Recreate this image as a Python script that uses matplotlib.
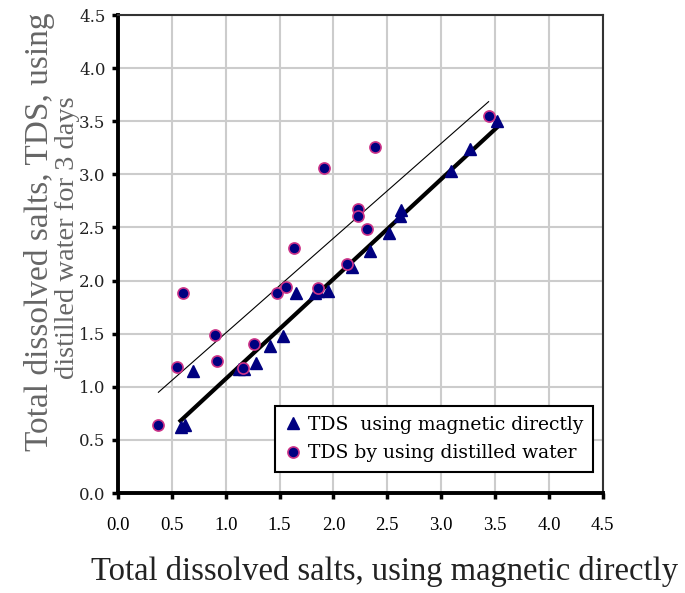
import numpy as np
import matplotlib
matplotlib.use('Agg')
import matplotlib.pyplot as plt

# TDS measured with the magnetic method directly
mag_x = [0.58, 0.62, 0.70, 1.12, 1.17, 1.28, 1.41, 1.53, 1.65, 1.83, 1.86, 1.95,
         2.17, 2.34, 2.52, 2.62, 2.63, 3.09, 3.27, 3.52]
mag_y = [0.62, 0.64, 1.15, 1.17, 1.17, 1.22, 1.38, 1.48, 1.88, 1.88, 1.90, 1.90,
         2.13, 2.28, 2.45, 2.61, 2.66, 3.03, 3.24, 3.50]

# TDS after 3 days in distilled water
dw_x = [0.375, 0.55, 0.60, 0.90, 0.92, 1.16, 1.26, 1.48, 1.56, 1.63, 1.86, 1.91,
        2.13, 2.23, 2.23, 2.31, 2.39, 3.44]
dw_y = [0.64, 1.19, 1.88, 1.49, 1.24, 1.18, 1.40, 1.88, 1.94, 2.31, 1.93, 3.06,
        2.16, 2.67, 2.61, 2.49, 3.26, 3.55]

ticks = np.arange(0, 4.51, 0.5)

plt.rcParams['font.family'] = ['Liberation Serif', 'DejaVu Serif']

fig = plt.figure(figsize=(6.85, 5.93), dpi=100)
ax = fig.add_axes([0.1723, 0.1686, 0.7077, 0.806])

ax.set_xlim(0, 4.5)
ax.set_ylim(0, 4.5)
ax.set_xticks(ticks)
ax.set_yticks(ticks)
ax.set_xticklabels(['%.1f' % t for t in ticks], fontsize=13.5)
ax.set_yticklabels(['%.1f' % t for t in ticks], fontsize=12,
                   family='DejaVu Serif', color='#222222')
ax.grid(True, color='#cccccc', lw=1.5)
ax.set_axisbelow(True)

for side in ['left', 'bottom']:
    ax.spines[side].set_linewidth(2.8)
for side in ['top', 'right']:
    ax.spines[side].set_linewidth(1.5)
    ax.spines[side].set_color('#333333')
ax.tick_params(direction='out', length=4, width=2.5, pad=5)
ax.tick_params(axis='x', pad=13)

# linear trend lines of both series
mx = np.array(mag_x)
p1 = np.polyfit(mx, mag_y, 1)
xs1 = np.array([mx.min(), mx.max()])
ax.plot(xs1, np.polyval(p1, xs1), color='black', lw=3, zorder=2)

dx = np.array(dw_x)
p2 = np.polyfit(dx, dw_y, 1)
xs2 = np.array([dx.min(), dx.max()])
ax.plot(xs2, np.polyval(p2, xs2), color='black', lw=0.8, zorder=2)

ax.plot(mag_x, mag_y, linestyle='none', marker='^', ms=9, color='#000080',
        mec='#000080', zorder=3, label='TDS  using magnetic directly')
ax.plot(dw_x, dw_y, linestyle='none', marker='o', ms=8, color='#000080',
        mec='#cc3388', mew=1.2, zorder=3, label='TDS by using distilled water')

leg = ax.legend(loc='lower right', bbox_to_anchor=(0.98, 0.045),
                prop={'family': 'DejaVu Serif', 'size': 13.5},
                frameon=True, fancybox=False, framealpha=1, edgecolor='black',
                handletextpad=0.3, borderpad=0.5, labelspacing=0.55,
                handlelength=1.0, borderaxespad=0)
leg.get_frame().set_linewidth(1.5)

fig.text(0.562, 0.037, 'Total dissolved salts, using magnetic directly',
         fontsize=23.5, color='#222222', ha='center', va='center')
fig.text(0.058, 0.609, 'Total dissolved salts, TDS, using', rotation=90,
         fontsize=24, color='#666666', ha='center', va='center')
fig.text(0.099, 0.60, 'distilled water for 3 days', rotation=90,
         fontsize=20.5, color='#666666', ha='center', va='center')

fig.savefig('out.png', dpi=100)
